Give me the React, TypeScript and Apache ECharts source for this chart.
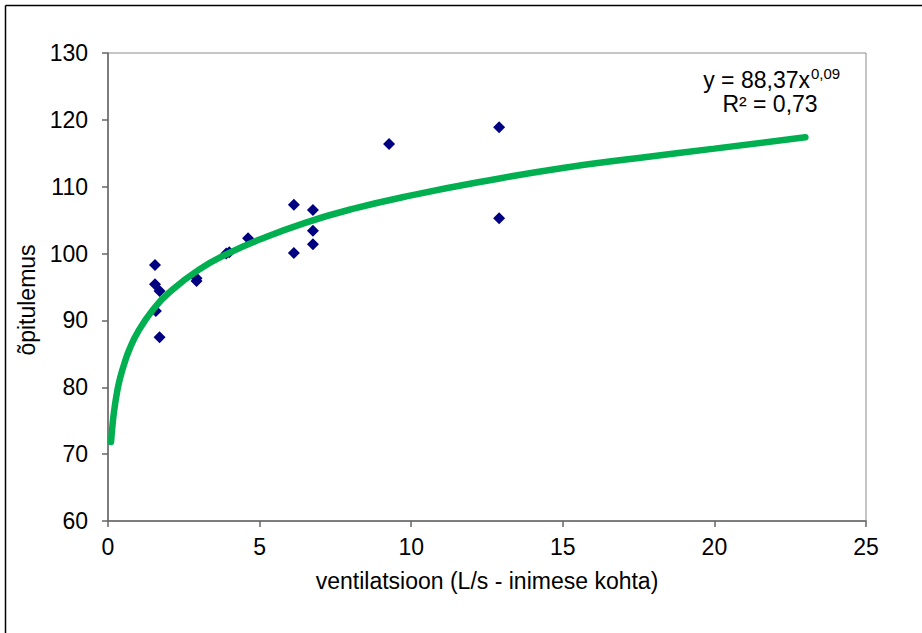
import React, { useEffect, useRef } from "react";
import * as echarts from "echarts";

// Measured points (ventilation L/s per person, learning performance)
const ventilation = [1.55, 1.55, 1.7, 1.58, 1.7, 2.92, 2.92, 3.9, 4.0, 4.62, 6.13, 6.13, 6.76, 6.76, 6.76, 9.27, 12.9, 12.9];
const performance = [98.3, 95.4, 94.4, 91.4, 87.5, 96.3, 95.9, 100.0, 100.2, 102.3, 107.3, 100.1, 106.5, 103.4, 101.4, 116.4, 118.9, 105.3];

// Trendline (power fit y = 88,37x^0,09)
const trendX = [0.1, 0.15, 0.2, 0.3, 0.4, 0.55, 0.7, 1, 1.5, 2, 3, 4, 5, 6.5, 8, 10, 12.5, 15, 17.5, 20, 23];
const trendY = [71.8, 74.4, 76.4, 79.3, 81.4, 83.7, 85.6, 88.4, 91.7, 94.1, 97.6, 100.1, 102.1, 104.6, 106.6, 108.7, 110.9, 112.8, 114.3, 115.7, 117.4];

const xTicks = { min: 0, max: 25, interval: 5 };
const yTicks = { min: 60, max: 130, interval: 10 };

const xTitle = "ventilatsioon (L/s - inimese kohta)";
const yTitle = "õpitulemus";
const eqMain = "y = 88,37x";
const eqExp = "0,09";
const eqR2 = "R² = 0,73";

const FONT = "'Liberation Sans', Arial, sans-serif";

export default function App() {
  const ref = useRef<HTMLDivElement>(null);
  useEffect(() => {
    if (!ref.current) return;
    const chart = echarts.init(ref.current, null, { renderer: "svg" });
    const axisColor = "#666666";
    chart.setOption({
      animation: false,
      backgroundColor: "#ffffff",
      textStyle: { fontFamily: FONT },
      grid: {
        left: 108,
        top: 53,
        right: 56,
        bottom: 112,
        show: true,
        borderColor: "#8a8a8a",
        borderWidth: 1,
        containLabel: false,
      },
      xAxis: {
        type: "value",
        min: xTicks.min,
        max: xTicks.max,
        interval: xTicks.interval,
        name: xTitle,
        nameLocation: "middle",
        nameGap: 48,
        nameTextStyle: { fontSize: 23, color: "#000", fontFamily: FONT },
        axisLine: { show: true, lineStyle: { color: axisColor, width: 1.5 } },
        axisTick: { show: true, length: 6, lineStyle: { color: axisColor, width: 1.5 } },
        axisLabel: { fontSize: 23, color: "#000", margin: 14, fontFamily: FONT },
        splitLine: { show: false },
      },
      yAxis: {
        type: "value",
        min: yTicks.min,
        max: yTicks.max,
        interval: yTicks.interval,
        axisLine: { show: true, lineStyle: { color: axisColor, width: 1.5 } },
        axisTick: { show: true, length: 6, lineStyle: { color: axisColor, width: 1.5 } },
        axisLabel: { fontSize: 23, color: "#000", margin: 20, fontFamily: FONT },
        splitLine: { show: false },
      },
      series: [
        {
          type: "scatter",
          data: ventilation.map((x, i) => [x, performance[i]]),
          symbol: "diamond",
          symbolSize: 12,
          itemStyle: { color: "#000080", opacity: 1 },
          z: 2,
        },
        {
          type: "line",
          data: trendX.map((x, i) => [x, trendY[i]]),
          smooth: true,
          showSymbol: false,
          symbol: "none",
          lineStyle: { color: "#00B050", width: 6.5, cap: "round" },
          z: 3,
        },
      ],
      graphic: [
        {
          type: "line",
          shape: { x1: 5.5, y1: 5.5, x2: 922, y2: 5.5 },
          style: { stroke: "#000", lineWidth: 1.5 },
        },
        {
          type: "line",
          shape: { x1: 5.5, y1: 5.5, x2: 5.5, y2: 633 },
          style: { stroke: "#000", lineWidth: 1.5 },
        },
        {
          type: "text",
          x: 27,
          y: 300,
          rotation: Math.PI / 2,
          style: {
            text: yTitle,
            fontSize: 23,
            fontFamily: FONT,
            fill: "#000",
            textAlign: "center",
            textVerticalAlign: "middle",
          },
        },
        {
          type: "text",
          x: 810,
          y: 80,
          style: {
            text: eqMain,
            fontSize: 23,
            fontFamily: FONT,
            fill: "#000",
            textAlign: "right",
            textVerticalAlign: "middle",
          },
        },
        {
          type: "text",
          x: 811,
          y: 73,
          style: {
            text: eqExp,
            fontSize: 15,
            fontFamily: FONT,
            fill: "#000",
            textAlign: "left",
            textVerticalAlign: "middle",
          },
        },
        {
          type: "text",
          x: 770,
          y: 104,
          style: {
            text: eqR2,
            fontSize: 23,
            fontFamily: FONT,
            fill: "#000",
            textAlign: "center",
            textVerticalAlign: "middle",
          },
        },
      ],
    });
    return () => chart.dispose();
  }, []);
  return (
    <div
      ref={ref}
      style={{ position: "absolute", left: 0, top: 0, width: 922, height: 633, background: "#fff" }}
    />
  );
}
